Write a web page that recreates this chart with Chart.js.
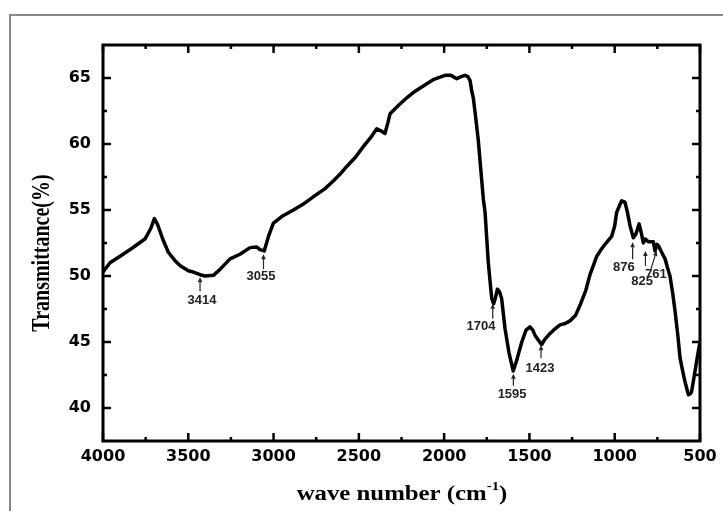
<!DOCTYPE html>
<html>
<head>
<meta charset="utf-8">
<title>FTIR spectrum</title>
<script src="https://cdn.jsdelivr.net/npm/chart.js@4.4.1/dist/chart.umd.min.js"></script>
<style>
  html, body { margin: 0; padding: 0; background: #fff; }
  #wrap { width: 723px; height: 511px; }
</style>
</head>
<body>
<div id="wrap"><canvas id="ftir" width="723" height="511"></canvas></div>
<script>
// spectrum (cm-1 / %)
const wavenumber = [
  4000, 3959, 3900, 3830, 3754, 3720, 3699, 3680, 3650, 3617, 3580, 3549, 3500, 3470, 3431, 3400,
  3353, 3314, 3255, 3197, 3138, 3100, 3080, 3055, 3030, 3001, 2952, 2884, 2820, 2767, 2700, 2650,
  2611, 2571, 2520, 2474, 2430, 2395, 2370, 2347, 2330, 2317, 2270, 2219, 2170, 2122, 2060, 1995,
  1960, 1926, 1900, 1878, 1860, 1848, 1838, 1829, 1815, 1800, 1780, 1770, 1760, 1741, 1730, 1721,
  1710, 1700, 1688, 1675, 1663, 1643, 1620, 1595, 1575, 1545, 1520, 1497, 1480, 1467, 1428, 1410,
  1379, 1350, 1321, 1290, 1262, 1230, 1203, 1170, 1145, 1105, 1080, 1057, 1018, 1000, 989, 970,
  959, 940, 925, 910, 891, 875, 857, 845, 832, 820, 803, 774, 764, 752, 744, 725,
  705, 690, 676, 660, 646, 630, 617, 600, 588, 568, 555, 549, 529, 510, 500
];
const transmittance = [
  50.3, 51.0, 51.5, 52.1, 52.8, 53.6, 54.35, 53.9, 52.8, 51.8, 51.2, 50.8, 50.4, 50.3, 50.1, 50.0,
  50.05, 50.5, 51.3, 51.65, 52.15, 52.2, 52.0, 51.9, 53.0, 54.0, 54.5, 55.0, 55.5, 56.0, 56.6, 57.2,
  57.7, 58.3, 59.0, 59.8, 60.5, 61.15, 61.0, 60.8, 61.6, 62.3, 62.9, 63.5, 64.0, 64.4, 64.9, 65.2,
  65.2, 64.95, 65.1, 65.2, 65.1, 64.8, 64.0, 63.5, 62.0, 60.3, 57.3, 55.8, 54.8, 51.0, 49.5, 48.3,
  47.9, 48.3, 49.0, 48.8, 48.3, 46.0, 44.2, 42.8, 43.6, 45.0, 45.9, 46.15, 45.9, 45.5, 44.8, 45.2,
  45.65, 46.0, 46.3, 46.4, 46.6, 47.0, 47.8, 48.9, 50.1, 51.5, 52.0, 52.4, 53.0, 53.8, 54.8, 55.4,
  55.7, 55.6, 54.8, 53.8, 52.9, 53.2, 53.95, 53.3, 52.5, 52.8, 52.6, 52.6, 51.9, 52.4, 52.3, 51.8,
  51.3, 50.6, 50.0, 48.7, 47.3, 45.5, 43.8, 42.7, 42.0, 41.0, 41.1, 41.25, 42.8, 44.3, 45.0
];

const xTicks = [4000, 3500, 3000, 2500, 2000, 1500, 1000, 500];
const xMinor = [3750, 3250, 2750, 2250, 1750, 1250, 750];
const yTicks = [40, 45, 50, 55, 60, 65];
const yMinor = [42.5, 47.5, 52.5, 57.5, 62.5];

// marked bands: label, position of the arrow tip on the curve
const peakLabels = ['3414', '3055', '1704', '1595', '1423', '876', '825', '761'];
const peakWn = [3431, 3059, 1715, 1594, 1432, 895, 820, 754];
const peakT = [49.9, 51.65, 47.9, 42.6, 44.75, 52.55, 51.9, 51.9];

// arrow/label layout in px: [tail dx, arrow length, label dx, label dy]
const peakLayout = [
  [0, 14, 2, 23], [0, 15, -2.5, 22], [0, 15, -11.7, 23], [0, 12, -1.3, 21],
  [0, 13, -1, 23], [0, 17, -8.7, 25], [0, 15, -3.3, 31], [-5.7, 18, -0.7, 24]
];

const frame = {
  id: 'frame',
  beforeDraw(chart) {
    const ctx = chart.ctx;
    ctx.save();
    ctx.strokeStyle = '#888';
    ctx.lineWidth = 2;
    ctx.beginPath();
    ctx.moveTo(10, 511);
    ctx.lineTo(10, 15);
    ctx.lineTo(723, 15);
    ctx.stroke();
    ctx.restore();
  },
  afterDatasetsDraw(chart) {
    const {ctx, chartArea: a, scales: {x, y}} = chart;
    ctx.save();
    ctx.strokeStyle = '#000';
    ctx.lineWidth = 3;
    ctx.strokeRect(a.left, a.top, a.right - a.left, a.bottom - a.top);

    // inward ticks on all four sides
    ctx.lineWidth = 2.5;
    ctx.beginPath();
    const xt = (v, len) => {
      const p = x.getPixelForValue(v);
      ctx.moveTo(p, a.bottom); ctx.lineTo(p, a.bottom - len);
      ctx.moveTo(p, a.top); ctx.lineTo(p, a.top + len);
    };
    const yt = (v, len) => {
      const p = y.getPixelForValue(v);
      ctx.moveTo(a.left, p); ctx.lineTo(a.left + len, p);
      ctx.moveTo(a.right, p); ctx.lineTo(a.right - len, p);
    };
    xTicks.forEach(v => xt(v, 8));
    xMinor.forEach(v => xt(v, 4));
    yTicks.forEach(v => yt(v, 8));
    yMinor.forEach(v => yt(v, 4));
    ctx.stroke();

    // band arrows
    ctx.strokeStyle = '#222';
    ctx.fillStyle = '#222';
    ctx.lineWidth = 1.2;
    ctx.font = 'bold 13px "Liberation Sans", Arial, sans-serif';
    ctx.textAlign = 'center';
    ctx.textBaseline = 'middle';
    peakLabels.forEach((txt, i) => {
      const px = x.getPixelForValue(peakWn[i]);
      const py = y.getPixelForValue(peakT[i]);
      const [tdx, len, ldx, ldy] = peakLayout[i];
      const tx = px + tdx, ty = py + len;
      const ang = Math.atan2(py - ty, px - tx);
      const hx = px - 5 * Math.cos(ang), hy = py - 5 * Math.sin(ang);
      ctx.beginPath();
      ctx.moveTo(tx, ty);
      ctx.lineTo(hx, hy);
      ctx.stroke();
      ctx.beginPath();
      ctx.moveTo(px, py);
      ctx.lineTo(hx + 2.3 * Math.sin(ang), hy - 2.3 * Math.cos(ang));
      ctx.lineTo(hx - 2.3 * Math.sin(ang), hy + 2.3 * Math.cos(ang));
      ctx.closePath();
      ctx.fill();
      ctx.fillText(txt, px + ldx, py + ldy);
    });
    ctx.restore();
  },
  afterDraw(chart) {
    const {ctx, chartArea: a} = chart;
    ctx.save();
    ctx.fillStyle = '#000';
    // y title, rotated
    ctx.translate(43, (a.top + a.bottom) / 2 + 10);
    ctx.rotate(-Math.PI / 2);
    ctx.scale(1, 1.25);
    ctx.font = 'bold 20px "Liberation Serif", "Times New Roman", serif';
    ctx.textAlign = 'center';
    ctx.textBaseline = 'middle';
    ctx.fillText('Transmittance(%)', 0, 0);
    ctx.restore();

    // x title with superscript
    ctx.save();
    ctx.fillStyle = '#000';
    const main = 'wave number (cm';
    const sup = '-1';
    ctx.font = 'bold 20px "Liberation Serif", "Times New Roman", serif';
    const w1 = ctx.measureText(main).width;
    const w3 = ctx.measureText(')').width;
    ctx.font = 'bold 12px "Liberation Serif", "Times New Roman", serif';
    const w2 = ctx.measureText(sup).width;
    const sx = 1.24;
    const total = (w1 + w2 + w3) * sx;
    ctx.translate(402 - total / 2, 500);
    ctx.scale(sx, 1);
    ctx.textBaseline = 'alphabetic';
    ctx.textAlign = 'left';
    ctx.font = 'bold 20px "Liberation Serif", "Times New Roman", serif';
    ctx.fillText(main, 0, 0);
    ctx.font = 'bold 12px "Liberation Serif", "Times New Roman", serif';
    ctx.fillText(sup, w1, -10);
    ctx.font = 'bold 20px "Liberation Serif", "Times New Roman", serif';
    ctx.fillText(')', w1 + w2, 0);
    ctx.restore();
  }
};

const tickFont = {family: '"DejaVu Sans", sans-serif', weight: 'bold', size: 16};

new Chart(document.getElementById('ftir'), {
  type: 'line',
  data: {
    datasets: [{
      data: wavenumber.map((w, i) => ({x: w, y: transmittance[i]})),
      borderColor: '#000',
      borderWidth: 3.5,
      pointRadius: 0,
      tension: 0,
      borderJoinStyle: 'round',
      borderCapStyle: 'round'
    }]
  },
  options: {
    responsive: false,
    animation: false,
    layout: {padding: {top: 45, right: 23, left: 0, bottom: 0}},
    plugins: {legend: {display: false}, tooltip: {enabled: false}},
    scales: {
      x: {
        type: 'linear',
        reverse: true,
        min: 500,
        max: 4000,
        grid: {display: false, drawTicks: false},
        border: {display: false},
        afterBuildTicks: s => { s.ticks = xTicks.map(v => ({value: v})); },
        afterFit: s => { s.height = 70; },
        ticks: {padding: 6, font: tickFont, color: '#000', maxRotation: 0, autoSkip: false,
                callback: v => String(v)}
      },
      y: {
        min: 37.5,
        max: 67.5,
        grid: {display: false, drawTicks: false},
        border: {display: false},
        afterBuildTicks: s => { s.ticks = yTicks.map(v => ({value: v})); },
        afterFit: s => { s.width = 103; },
        ticks: {padding: 12, font: tickFont, color: '#000', autoSkip: false,
                callback: v => String(v)}
      }
    }
  },
  plugins: [frame]
});
</script>
</body>
</html>
